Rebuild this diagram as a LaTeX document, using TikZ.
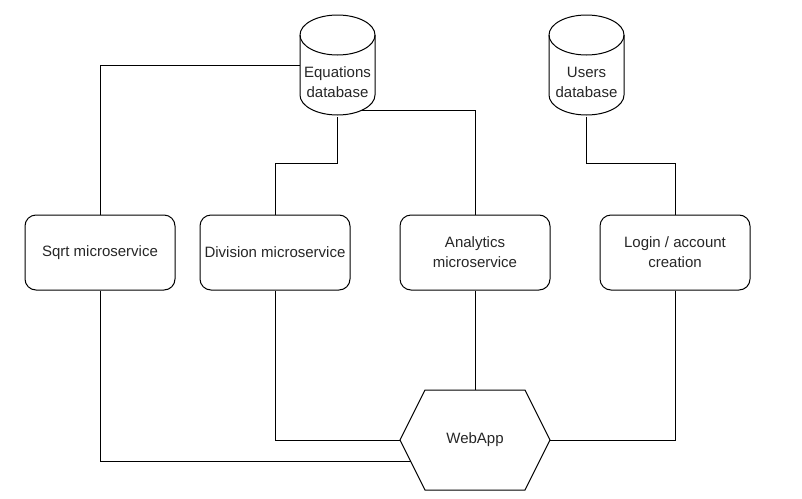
\documentclass[tikz,border=0pt]{standalone}
\usepackage{fontspec}
\setmainfont{Liberation Sans}
\begin{document}
\begin{tikzpicture}[x=1pt,y=-1pt,line width=1pt,
  txt/.style={align=center,inner sep=0pt,font=\fontsize{15}{20}\selectfont,text=black!85},
  box/.style={txt,draw,rounded corners=11pt,minimum width=150pt,minimum height=75pt},
  cylarea/.style={draw=none,inner sep=0pt,minimum width=75pt,minimum height=102pt},
  wire/.style={draw,line width=1pt}]
\useasboundingbox (0,0) rectangle (802,498);
% boxes
\node[box] (sqrt) at (100,252.5) {Sqrt microservice};
\node[box] (div) at (275,252.5) {Division microservice};
\node[box] (ana) at (475,252.5) {Analytics\\microservice};
\node[box] (login) at (675,252.5) {Login / account\\creation};
% cylinders
\node[cylarea] (eq) at (337.5,65) {};
\draw (300,35) arc[start angle=180,end angle=0,x radius=37.5pt,y radius=20pt]
  -- (375,95) arc[start angle=0,end angle=-180,x radius=37.5pt,y radius=20pt] -- cycle;
\draw (300,35) arc[start angle=180,end angle=360,x radius=37.5pt,y radius=20pt];
\node[txt] (eqt) at (337.5,82) {Equations\\database};
\node[cylarea] (usr) at (586.5,65) {};
\draw (549,35) arc[start angle=180,end angle=0,x radius=37.5pt,y radius=20pt]
  -- (624,95) arc[start angle=0,end angle=-180,x radius=37.5pt,y radius=20pt] -- cycle;
\draw (549,35) arc[start angle=180,end angle=360,x radius=37.5pt,y radius=20pt];
\node[txt] (usrt) at (586.5,82) {Users\\database};
% hexagon
\draw (400,440) -- (425,390) -- (525,390) -- (550,440) -- (525,490) -- (425,490) -- cycle;
\node[txt] (web) at (475,440) {WebApp};
\coordinate (hexL) at (400,440);
\coordinate (hexR) at (550,440);
\coordinate (hexT) at (475,390);
\coordinate (hexLL) at (410.5,461);
% join points
\coordinate (eqjoin) at (337.5,163);
\coordinate (eqbr) at (362,110);
\coordinate (usjoin) at (586.5,163);
% connectors top
\draw[wire] (sqrt.north) |- (eq.west);
\draw[wire] (div.north) |- (eqjoin) -- (eq.south);
\draw[wire] (ana.north) |- (eqbr);
\draw[wire] (usr.south) -- (usjoin) -| (login.north);
% connectors bottom
\draw[wire] (sqrt.south) |- (hexLL);
\draw[wire] (div.south) |- (hexL);
\draw[wire] (ana.south) -- (hexT);
\draw[wire] (login.south) |- (hexR);
\end{tikzpicture}
\end{document}
